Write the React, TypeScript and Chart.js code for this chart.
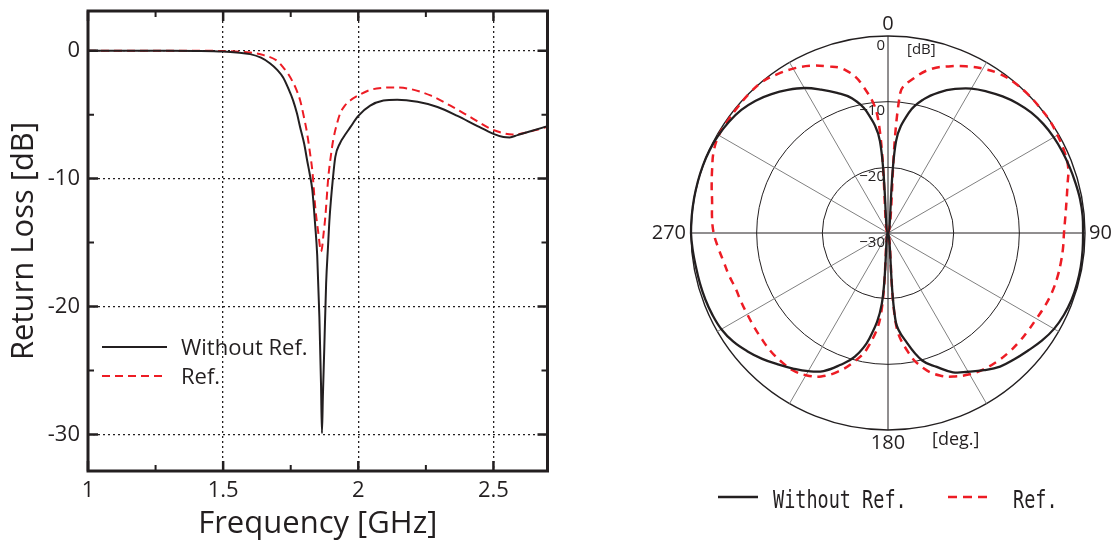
import React, { useEffect, useRef } from 'react';
import { Chart, registerables } from 'chart.js';

Chart.register(...registerables);

const FONT = '"Open Sans", "Noto Sans", sans-serif';
const MONO = '"DejaVu Sans Mono", "Liberation Mono", monospace';
const TEXT = '#231f20';
const BLACK = '#231f20';
const RED = '#ed1c24';
const SPOKE = '#808080';

// ---------- Return loss (left) ----------
const FREQ_WITHOUT = [1.0, 1.1, 1.2, 1.3, 1.4, 1.5, 1.55, 1.6, 1.64, 1.674, 1.7, 1.722, 1.74, 1.759, 1.773, 1.785, 1.8, 1.811, 1.82, 1.83, 1.84, 1.848, 1.856, 1.862, 1.8655, 1.869, 1.874, 1.881, 1.888, 1.894, 1.906, 1.915, 1.933, 1.944, 1.97, 2.0, 2.044, 2.093, 2.144, 2.219, 2.293, 2.367, 2.441, 2.5, 2.537, 2.56, 2.589, 2.637, 2.7];
const RL_WITHOUT = [0, 0, 0, 0, -0.02, -0.07, -0.14, -0.27, -0.55, -1.0, -1.5, -2.1, -2.9, -3.9, -4.9, -6.0, -7.3, -8.6, -9.6, -10.9, -13.5, -16, -20.8, -26, -29.9, -27, -23.4, -18.2, -15.3, -13, -10, -8.3, -7.2, -6.8, -6.0, -5.1, -4.3, -3.9, -3.83, -4.0, -4.4, -5.1, -5.9, -6.5, -6.75, -6.78, -6.6, -6.3, -5.9];
const FREQ_REF = [1.0, 1.2, 1.4, 1.5, 1.6, 1.65, 1.7, 1.722, 1.74, 1.759, 1.772, 1.785, 1.798, 1.811, 1.82, 1.83, 1.841, 1.853, 1.858, 1.862, 1.866, 1.87, 1.878, 1.889, 1.898, 1.907, 1.92, 1.933, 1.95, 1.97, 2.0, 2.044, 2.093, 2.13, 2.193, 2.267, 2.341, 2.415, 2.489, 2.537, 2.57, 2.6, 2.648, 2.7];
const RL_REF = [0, 0, 0, -0.03, -0.15, -0.35, -0.8, -1.3, -1.8, -2.5, -3.1, -3.9, -5.1, -6.5, -7.8, -9.4, -12.3, -14.4, -15.3, -15.7, -15.4, -14.6, -13, -9.9, -8.3, -7.0, -5.8, -4.9, -4.3, -3.9, -3.5, -3.07, -2.9, -2.87, -3.0, -3.5, -4.3, -5.2, -6.1, -6.45, -6.55, -6.5, -6.25, -5.95];
const X_MAJOR_TICKS = [1, 1.5, 2, 2.5];
const X_TICK_LABELS = ['1', '1.5', '2', '2.5'];
const Y_MAJOR_TICKS = [0, -10, -20, -30];
const Y_TICK_LABELS = ['0', '-10', '-20', '-30'];
const SERIES_NAMES = ['Without Ref.', 'Ref.'];

// ---------- Radiation pattern (right) ----------
const ANGLES = ['0', '5', '10', '15', '20', '25', '30', '35', '40', '45', '50', '55', '60', '65', '70', '75', '80', '85', '90', '95', '100', '105', '110', '115', '120', '125', '130', '135', '140', '145', '150', '155', '160', '165', '170', '175', '180', '185', '190', '195', '200', '205', '210', '215', '220', '225', '230', '235', '240', '245', '250', '255', '260', '265', '270', '275', '280', '285', '290', '295', '300', '305', '310', '315', '320', '325', '330', '335', '340', '345', '350', '355'];
const PATTERN_WITHOUT = [-30, -16, -11.3, -8.9, -7.2, -5.8, -4.6, -3.7, -2.85, -2.1, -1.5, -1.1, -0.85, -0.7, -0.58, -0.45, -0.3, -0.25, -0.3, -0.25, -0.2, -0.2, -0.25, -0.45, -0.8, -1.4, -2.15, -2.8, -3.45, -4.5, -5.6, -6.6, -8.3, -9.9, -12.9, -16.4, -30, -19.2, -13.7, -10.5, -8.6, -6.8, -5.7, -4.8, -3.9, -2.9, -2.0, -1.2, -0.7, -0.5, -0.4, -0.35, -0.3, -0.15, 0, 0, 0, 0, 0, -0.05, -0.2, -0.45, -0.85, -1.5, -2.4, -3.4, -4.5, -5.9, -7.3, -8.75, -11.2, -16];
const PATTERN_REF = [-30, -8.6, -5.9, -4.1, -3.0, -2.0, -1.1, -0.4, -0.1, 0, 0, 0, -0.2, -0.4, -0.8, -1.7, -2.4, -2.9, -3.2, -3.25, -3.3, -3.35, -3.45, -3.65, -3.9, -4.0, -4.05, -4.15, -4.35, -4.65, -5.15, -5.9, -6.9, -8.6, -11.3, -16, -30, -17.5, -12.3, -9.6, -7.5, -5.9, -5.0, -4.55, -4.55, -4.65, -4.9, -5.1, -5.25, -5.3, -5.3, -4.95, -4.6, -4.05, -3.45, -3.1, -2.8, -2.2, -1.5, -0.7, -0.25, -0.2, -0.15, -0.05, -0.05, -0.5, -1.1, -1.9, -3.0, -4.2, -7.0, -12.5];
const ANGLE_TICK_LABELS = ['0', '90', '180', '270'];
const DB_TICKS = [0, -10, -20, -30];
const DB_TICK_LABELS = ['0', '\u221210', '\u221220', '\u221230'];

const near = (a: number, b: number) => Math.abs(a - b) < 1e-6;
const majorIndex = (list: number[], v: number) => list.findIndex((m) => near(m, v));

function ReturnLossChart() {
  const ref = useRef<HTMLCanvasElement>(null);
  useEffect(() => {
    const canvas = ref.current as HTMLCanvasElement;
    const decor = {
      id: 'rlDecor',
      afterDatasetsDraw(chart: any) {
        const ctx = chart.ctx;
        const { left, right, top, bottom } = chart.chartArea;
        const xs = chart.scales.x;
        const ys = chart.scales.y;
        ctx.save();
        ctx.strokeStyle = BLACK;
        // inward ticks
        xs.ticks.forEach((t: any) => {
          const major = majorIndex(X_MAJOR_TICKS, t.value) >= 0;
          const len = major ? 10 : 6;
          ctx.lineWidth = major ? 2.5 : 2;
          const px = xs.getPixelForValue(t.value);
          ctx.beginPath();
          ctx.moveTo(px, bottom); ctx.lineTo(px, bottom - len);
          ctx.moveTo(px, top); ctx.lineTo(px, top + len);
          ctx.stroke();
        });
        ys.ticks.forEach((t: any) => {
          const major = majorIndex(Y_MAJOR_TICKS, t.value) >= 0;
          const len = major ? 10 : 6;
          ctx.lineWidth = major ? 2.5 : 2;
          const py = ys.getPixelForValue(t.value);
          ctx.beginPath();
          ctx.moveTo(left, py); ctx.lineTo(left + len, py);
          ctx.moveTo(right, py); ctx.lineTo(right - len, py);
          ctx.stroke();
        });
        // frame
        ctx.lineWidth = 3;
        ctx.strokeRect(left, top, right - left, bottom - top);
        // legend
        const ds = chart.data.datasets;
        const lx0 = left + 14, lx1 = left + 79, tx = left + 93;
        const rows = [top + 336, top + 365];
        ds.forEach((d: any, i: number) => {
          ctx.save();
          ctx.strokeStyle = d.borderColor;
          ctx.lineWidth = 2;
          ctx.setLineDash(d.borderDash || []);
          ctx.beginPath();
          ctx.moveTo(lx0, rows[i]); ctx.lineTo(lx1, rows[i]);
          ctx.stroke();
          ctx.restore();
          ctx.fillStyle = TEXT;
          ctx.font = `22px ${FONT}`;
          ctx.textAlign = 'left';
          ctx.textBaseline = 'middle';
          ctx.fillText(d.label, tx, rows[i] + 2);
        });
        ctx.restore();
      },
    };
    const chart = new Chart(canvas, {
      type: 'line',
      data: {
        datasets: [
          {
            label: SERIES_NAMES[0],
            data: FREQ_WITHOUT.map((f, i) => ({ x: f, y: RL_WITHOUT[i] })),
            borderColor: BLACK,
            borderWidth: 2,
            pointRadius: 0,
            cubicInterpolationMode: 'monotone',
            fill: false,
          },
          {
            label: SERIES_NAMES[1],
            data: FREQ_REF.map((f, i) => ({ x: f, y: RL_REF[i] })),
            borderColor: RED,
            borderWidth: 2,
            borderDash: [8, 5],
            pointRadius: 0,
            cubicInterpolationMode: 'monotone',
            fill: false,
          },
        ],
      },
      options: {
        responsive: false,
        animation: false,
        events: [],
        layout: { padding: { left: 0, top: 11, right: 12.5, bottom: 0 } },
        plugins: { legend: { display: false }, tooltip: { enabled: false } },
        scales: {
          x: {
            type: 'linear',
            min: 1,
            max: 2.7,
            afterFit: (s: any) => { s.height = 73; s.paddingLeft = 0; s.paddingRight = 0; },
            ticks: {
              stepSize: 0.25,
              includeBounds: false,
              autoSkip: false,
              maxRotation: 0,
              padding: 7,
              color: TEXT,
              font: { family: FONT, size: 22 },
              callback: (v: any) => {
                const k = majorIndex(X_MAJOR_TICKS, Number(v));
                return k >= 0 ? X_TICK_LABELS[k] : '';
              },
            },
            grid: {
              drawTicks: false,
              lineWidth: 1.3,
              color: (c: any) => (c.tick && majorIndex(X_MAJOR_TICKS, c.tick.value) >= 0 ? BLACK : 'transparent'),
            },
            border: { display: false, dash: [2, 3] },
            title: {
              display: true,
              text: 'Frequency [GHz]',
              color: TEXT,
              font: { family: FONT, size: 31 },
              padding: { top: 0, bottom: 1 },
            },
          },
          y: {
            type: 'linear',
            min: -32.85,
            max: 3.1,
            afterFit: (s: any) => { s.width = 88; s.paddingTop = 0; s.paddingBottom = 0; },
            ticks: {
              stepSize: 5,
              includeBounds: false,
              autoSkip: false,
              padding: 8,
              color: TEXT,
              font: { family: FONT, size: 22 },
              callback: (v: any) => {
                const k = majorIndex(Y_MAJOR_TICKS, Number(v));
                return k >= 0 ? Y_TICK_LABELS[k] : '';
              },
            },
            grid: {
              drawTicks: false,
              lineWidth: 1.3,
              color: (c: any) => (c.tick && majorIndex(Y_MAJOR_TICKS, c.tick.value) >= 0 ? BLACK : 'transparent'),
            },
            border: { display: false, dash: [2, 3] },
            title: {
              display: true,
              text: 'Return Loss [dB]',
              color: TEXT,
              font: { family: FONT, size: 31 },
              padding: { top: 6, bottom: 0 },
            },
          },
        },
      } as any,
      plugins: [decor],
    } as any);
    return () => chart.destroy();
  }, []);
  return (
    <canvas
      ref={ref}
      width={560}
      height={544}
      style={{ position: 'absolute', left: 0, top: 0, width: 560, height: 544 }}
    />
  );
}

function PatternChart() {
  const ref = useRef<HTMLCanvasElement>(null);
  useEffect(() => {
    const canvas = ref.current as HTMLCanvasElement;
    const decor = {
      id: 'polarDecor',
      beforeDatasetsDraw(chart: any) {
        const s = chart.scales.r;
        const ctx = chart.ctx;
        ctx.save();
        ctx.fillStyle = TEXT;
        ctx.font = `15px ${FONT}`;
        ctx.textAlign = 'right';
        ctx.textBaseline = 'top';
        DB_TICKS.forEach((v, i) => {
          const y = s.yCenter - s.getDistanceFromCenterForValue(v) + 2;
          ctx.fillText(DB_TICK_LABELS[i], s.xCenter - 3, y);
        });
        ctx.textAlign = 'left';
        ctx.fillText('[dB]', s.xCenter + 19, s.yCenter - s.drawingArea + 6);
        ctx.restore();
      },
      afterDatasetsDraw(chart: any) {
        const s = chart.scales.r;
        const ctx = chart.ctx;
        const R = s.drawingArea;
        ctx.save();
        ctx.fillStyle = TEXT;
        ctx.font = `20px ${FONT}`;
        ANGLE_TICK_LABELS.forEach((lbl) => {
          const idx = ANGLES.indexOf(lbl);
          const deg = Number(lbl);
          const p = s.getPointPosition(idx, R + 4);
          if (deg === 0) {
            ctx.textAlign = 'center'; ctx.textBaseline = 'alphabetic';
            ctx.fillText(lbl, p.x, p.y - 2);
          } else if (deg === 90) {
            ctx.textAlign = 'left'; ctx.textBaseline = 'middle';
            ctx.fillText(lbl, p.x, p.y);
          } else if (deg === 180) {
            ctx.textAlign = 'center'; ctx.textBaseline = 'top';
            ctx.fillText(lbl, p.x, p.y - 1);
          } else {
            ctx.textAlign = 'right'; ctx.textBaseline = 'middle';
            ctx.fillText(lbl, p.x - 1, p.y);
          }
        });
        ctx.font = `18px ${FONT}`;
        ctx.textAlign = 'left';
        ctx.textBaseline = 'top';
        ctx.fillText('[deg.]', s.xCenter + 44, s.yCenter + R + 1);

        // legend
        const ds = chart.data.datasets;
        const items = [
          { x0: 118, x1: 158, tx: 173 },
          { x0: 348, x1: 390, tx: 413 },
        ];
        const ly = 497;
        ds.forEach((d: any, i: number) => {
          const it = items[i];
          ctx.save();
          ctx.strokeStyle = d.borderColor;
          ctx.lineWidth = 2.5;
          ctx.setLineDash(d.borderDash ? [9, 6] : []);
          ctx.beginPath();
          ctx.moveTo(it.x0, ly); ctx.lineTo(it.x1, ly);
          ctx.stroke();
          ctx.restore();
          ctx.save();
          ctx.font = `25px ${MONO}`;
          ctx.fillStyle = TEXT;
          ctx.textAlign = 'left';
          ctx.textBaseline = 'alphabetic';
          const sx = 0.74;
          ctx.scale(sx, 1);
          ctx.fillText(d.label, it.tx / sx, ly + 11);
          ctx.restore();
        });
        ctx.restore();
      },
    };
    const chart = new Chart(canvas, {
      type: 'radar',
      data: {
        labels: ANGLES,
        datasets: [
          {
            label: SERIES_NAMES[0],
            data: PATTERN_WITHOUT,
            borderColor: BLACK,
            backgroundColor: 'transparent',
            borderWidth: 2.3,
            pointRadius: 0,
            pointHitRadius: 0,
            tension: 0.4,
            fill: false,
          },
          {
            label: SERIES_NAMES[1],
            data: PATTERN_REF,
            borderColor: RED,
            backgroundColor: 'transparent',
            borderWidth: 2.5,
            borderDash: [8, 6],
            pointRadius: 0,
            pointHitRadius: 0,
            tension: 0.4,
            fill: false,
          },
        ],
      },
      options: {
        responsive: false,
        animation: false,
        events: [],
        layout: { padding: { left: 91, right: 28, top: 36, bottom: 114 } },
        plugins: { legend: { display: false }, tooltip: { enabled: false } },
        scales: {
          r: {
            min: -30,
            max: 0,
            startAngle: 0,
            ticks: { display: false, stepSize: 10 },
            pointLabels: { display: false },
            grid: {
              circular: true,
              color: (c: any) => (c.tick && c.tick.value <= -30 ? 'transparent' : BLACK),
              lineWidth: (c: any) => (c.tick && c.tick.value === 0 ? 1.4 : 1),
            },
            angleLines: {
              display: true,
              color: (c: any) => {
                const a = Number(ANGLES[c.index]);
                if (a % 90 === 0) return BLACK;
                if (a % 30 === 0) return SPOKE;
                return 'transparent';
              },
              lineWidth: (c: any) => (Number(ANGLES[c.index]) % 30 === 0 ? 1 : 0),
            },
          },
        },
      } as any,
      plugins: [decor],
    } as any);
    return () => chart.destroy();
  }, []);
  return (
    <canvas
      ref={ref}
      width={513}
      height={544}
      style={{ position: 'absolute', left: 600, top: 0, width: 513, height: 544 }}
    />
  );
}

export default function App() {
  return (
    <div
      style={{
        position: 'absolute',
        left: 0,
        top: 0,
        width: 1113,
        height: 544,
        overflow: 'hidden',
        background: '#ffffff',
      }}
    >
      <ReturnLossChart />
      <PatternChart />
    </div>
  );
}
